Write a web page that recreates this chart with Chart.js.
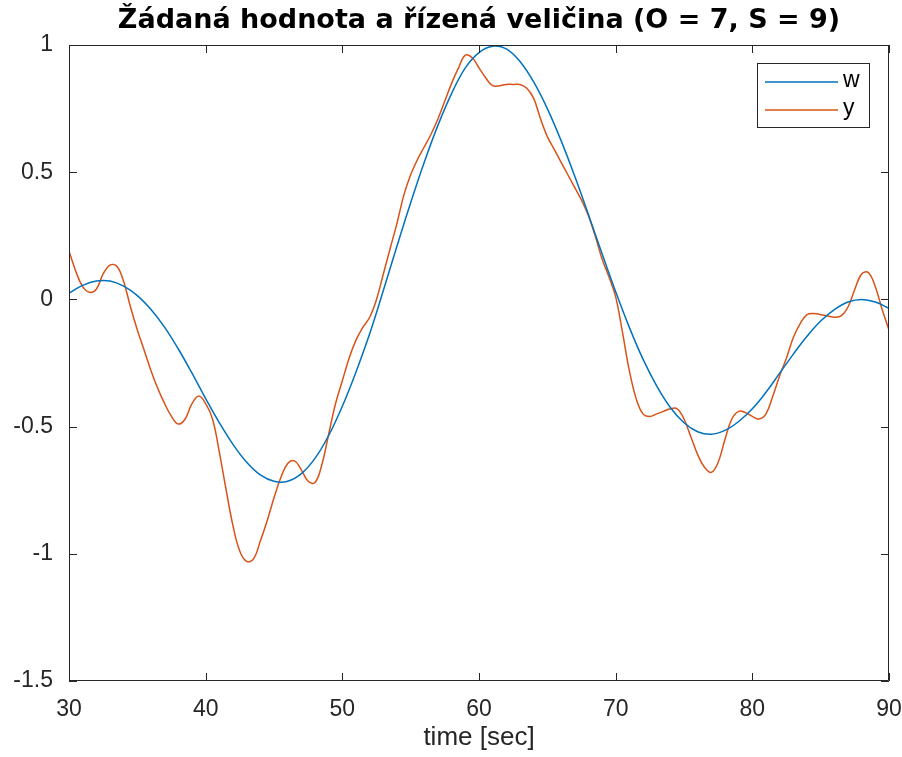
<!DOCTYPE html>
<html>
<head>
<meta charset="utf-8">
<script src="https://cdn.jsdelivr.net/npm/chart.js@4.4.1/dist/chart.umd.min.js"></script>
<style>
  html, body { margin: 0; padding: 0; background: #fff; }
  #wrap { width: 902px; height: 757px; }
</style>
</head>
<body>
<div id="wrap"><canvas id="plot" width="902" height="757"></canvas></div>
<script>
// setpoint w, sampled every second
const timeW = [30, 31, 32, 33, 34, 35, 36, 37, 38, 39, 40, 41, 42, 43, 44, 45, 46, 47, 48, 49,
  50, 51, 52, 53, 54, 55, 56, 57, 58, 59, 60, 61, 62, 63, 64, 65, 66, 67, 68, 69,
  70, 71, 72, 73, 74, 75, 76, 77, 78, 79, 80, 81, 82, 83, 84, 85, 86, 87, 88, 89, 90];
const valuesW = [0.025, 0.055, 0.072, 0.072, 0.052, 0.015, -0.04, -0.11, -0.195, -0.29,
  -0.39, -0.485, -0.57, -0.64, -0.69, -0.715, -0.715, -0.685, -0.625, -0.535,
  -0.42, -0.285, -0.135, 0.035, 0.21, 0.38, 0.54, 0.685, 0.81, 0.91,
  0.97, 0.995, 0.985, 0.935, 0.855, 0.75, 0.625, 0.485, 0.335, 0.18,
  0.03, -0.11, -0.235, -0.34, -0.425, -0.485, -0.52, -0.53, -0.515, -0.48,
  -0.43, -0.365, -0.29, -0.215, -0.145, -0.085, -0.04, -0.01, 0.0, -0.01, -0.035];

// controlled output y, sampled every half second
const timeY = [30, 30.5, 31, 31.5, 32, 32.5, 33, 33.5, 34, 34.5, 35, 35.5, 36, 36.5, 37, 37.5, 38, 38.5, 39, 39.5,
  40, 40.5, 41, 41.5, 42, 42.5, 43, 43.5, 44, 44.5, 45, 45.5, 46, 46.5, 47, 47.5, 48, 48.5, 49, 49.5,
  50, 50.5, 51, 51.5, 52, 52.5, 53, 53.5, 54, 54.5, 55, 55.5, 56, 56.5, 57, 57.5, 58, 58.5, 59, 59.5,
  60, 60.5, 61, 61.5, 62, 62.5, 63, 63.5, 64, 64.5, 65, 65.5, 66, 66.5, 67, 67.5, 68, 68.5, 69, 69.5,
  70, 70.5, 71, 71.5, 72, 72.5, 73, 73.5, 74, 74.5, 75, 75.5, 76, 76.5, 77, 77.5, 78, 78.5, 79, 79.5,
  80, 80.5, 81, 81.5, 82, 82.5, 83, 83.5, 84, 84.5, 85, 85.5, 86, 86.5, 87, 87.5, 88, 88.5, 89, 89.5, 90];
const valuesY = [0.19, 0.11, 0.05, 0.028, 0.04, 0.1, 0.135, 0.13, 0.07, -0.03,
  -0.12, -0.2, -0.28, -0.35, -0.41, -0.46, -0.49, -0.47, -0.41, -0.38,
  -0.41, -0.47, -0.6, -0.75, -0.89, -0.99, -1.03, -1.02, -0.95, -0.87,
  -0.78, -0.7, -0.645, -0.635, -0.67, -0.715, -0.72, -0.65, -0.53, -0.41,
  -0.32, -0.23, -0.16, -0.11, -0.07, 0.0, 0.1, 0.2, 0.3, 0.41,
  0.49, 0.55, 0.6, 0.65, 0.71, 0.78, 0.85, 0.91, 0.96, 0.95,
  0.91, 0.87, 0.84, 0.84, 0.845, 0.845, 0.845, 0.83, 0.79, 0.71,
  0.64, 0.59, 0.54, 0.49, 0.44, 0.39, 0.33, 0.25, 0.16, 0.09,
  0.01, -0.13, -0.28, -0.39, -0.45, -0.46, -0.45, -0.44, -0.43, -0.43,
  -0.47, -0.54, -0.61, -0.66, -0.68, -0.64, -0.55, -0.47, -0.44, -0.445,
  -0.46, -0.47, -0.45, -0.38, -0.3, -0.23, -0.15, -0.095, -0.06, -0.055,
  -0.06, -0.065, -0.07, -0.065, -0.03, 0.04, 0.1, 0.105, 0.05, -0.04, -0.12];

const xTicks = [30, 40, 50, 60, 70, 80, 90];
const yTicks = [-1.5, -1, -0.5, 0, 0.5, 1];

const axisColor = '#262626';
const tickFont = { family: 'Liberation Sans, Arial, sans-serif', size: 23 };

function points(xs, ys) {
  return xs.map((x, i) => ({ x: x, y: ys[i] }));
}

// box round the axes, with inward ticks on all four sides
const frame = {
  id: 'frame',
  afterDatasetsDraw(chart) {
    const { ctx, chartArea: a, scales: { x, y } } = chart;
    const len = 8;
    ctx.save();
    ctx.strokeStyle = axisColor;
    ctx.lineWidth = 1;
    ctx.beginPath();
    ctx.rect(a.left + 0.5, a.top + 0.5, a.width - 1, a.height - 1);
    xTicks.forEach(t => {
      const px = Math.round(x.getPixelForValue(t)) + 0.5;
      ctx.moveTo(px, a.bottom);
      ctx.lineTo(px, a.bottom - len);
      ctx.moveTo(px, a.top);
      ctx.lineTo(px, a.top + len);
    });
    yTicks.forEach(t => {
      const py = Math.round(y.getPixelForValue(t)) + 0.5;
      ctx.moveTo(a.left, py);
      ctx.lineTo(a.left + len, py);
      ctx.moveTo(a.right, py);
      ctx.lineTo(a.right - len, py);
    });
    ctx.stroke();
    ctx.restore();
  }
};

// legend box in the upper right corner of the axes
const boxLegend = {
  id: 'boxLegend',
  afterDraw(chart) {
    const { ctx, chartArea: a } = chart;
    const w = 112, h = 64;
    const left = a.right - 20 - w, top = a.top + 18;
    ctx.save();
    ctx.fillStyle = '#fff';
    ctx.fillRect(left, top, w, h);
    ctx.strokeStyle = axisColor;
    ctx.lineWidth = 1;
    ctx.strokeRect(left + 0.5, top + 0.5, w, h);
    ctx.font = '23px Liberation Sans, Arial, sans-serif';
    ctx.textBaseline = 'middle';
    chart.data.datasets.forEach((ds, i) => {
      const yy = top + 19 + i * 28;
      ctx.strokeStyle = ds.borderColor;
      ctx.lineWidth = 1.5;
      ctx.beginPath();
      ctx.moveTo(left + 8, yy);
      ctx.lineTo(left + 81, yy);
      ctx.stroke();
      ctx.fillStyle = '#000';
      ctx.fillText(ds.label, left + 86, yy - 1);
    });
    ctx.restore();
  }
};

const ctx = document.getElementById('plot').getContext('2d');

new Chart(ctx, {
  type: 'line',
  data: {
    datasets: [
      {
        label: 'w',
        data: points(timeW, valuesW),
        borderColor: '#0072BD',
        borderWidth: 1.5,
        pointRadius: 0,
        tension: 0.4
      },
      {
        label: 'y',
        data: points(timeY, valuesY),
        borderColor: '#D95319',
        borderWidth: 1.5,
        pointRadius: 0,
        tension: 0.4
      }
    ]
  },
  options: {
    responsive: false,
    animation: false,
    devicePixelRatio: 1,
    layout: { padding: { left: 0, right: 13, top: 0, bottom: 0 } },
    plugins: {
      legend: { display: false },
      tooltip: { enabled: false },
      title: {
        display: true,
        text: 'Žádaná hodnota a řízená veličina (O = 7, S = 9)',
        color: '#000',
        fullSize: false,
        font: { family: 'DejaVu Sans, sans-serif', size: 27, weight: 'bold', lineHeight: 1.2 },
        padding: { top: 5, bottom: 7.6 }
      }
    },
    scales: {
      x: {
        type: 'linear',
        min: 30,
        max: 90,
        afterBuildTicks: s => { s.ticks = xTicks.map(v => ({ value: v })); },
        afterFit: s => {
          s.height = 76;
          s.paddingLeft = 0;
          s.paddingRight = 0;
        },
        grid: { display: false, drawTicks: false },
        border: { display: false },
        ticks: { color: axisColor, font: tickFont, padding: 15, maxRotation: 0, callback: v => String(v) },
        title: {
          display: true,
          text: 'time [sec]',
          color: axisColor,
          font: { family: 'Liberation Sans, Arial, sans-serif', size: 26 },
          padding: { top: 2, bottom: 4 }
        }
      },
      y: {
        min: -1.5,
        max: 1,
        afterBuildTicks: s => { s.ticks = yTicks.map(v => ({ value: v })); },
        afterFit: s => {
          s.width = 69;
          s.paddingTop = 0;
          s.paddingBottom = 0;
        },
        grid: { display: false, drawTicks: false },
        border: { display: false },
        ticks: { color: axisColor, font: tickFont, padding: 16, callback: v => String(v) }
      }
    }
  },
  plugins: [frame, boxLegend]
});
</script>
</body>
</html>
